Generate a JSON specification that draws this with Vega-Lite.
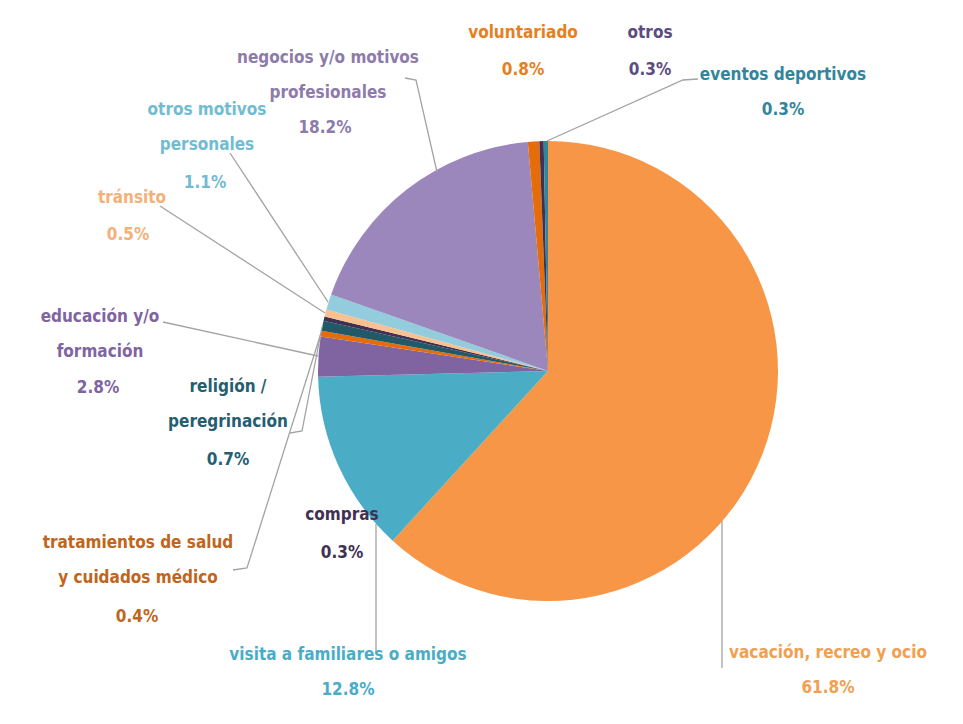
{
  "$schema": "https://vega.github.io/schema/vega-lite/v6.json",
  "width": 830,
  "height": 706,
  "autosize": {"type": "none"},
  "padding": {"left": 133, "top": 18, "right": 0, "bottom": 0},
  "background": "white",
  "config": {"view": {"stroke": null}},
  "data": {
    "values": [
      {"orden": 1, "motivo": "vacación, recreo y ocio", "etiqueta": "vacación, recreo y ocio", "porcentaje": 0.618, "guia": ["etiqueta", "sector"]},
      {"orden": 2, "motivo": "visita a familiares o amigos", "etiqueta": "visita a familiares o amigos", "porcentaje": 0.128, "guia": ["etiqueta", "sector"]},
      {"orden": 3, "motivo": "educación y/o formación", "etiqueta": "educación y/o\nformación", "porcentaje": 0.028, "guia": ["etiqueta", "sector"]},
      {"orden": 4, "motivo": "tratamientos de salud y cuidados médico", "etiqueta": "tratamientos de salud\ny cuidados médico", "porcentaje": 0.004, "guia": ["etiqueta", "codo", "sector"]},
      {"orden": 5, "motivo": "religión / peregrinación", "etiqueta": "religión /\nperegrinación", "porcentaje": 0.007, "guia": ["etiqueta", "codo", "sector"]},
      {"orden": 6, "motivo": "compras", "etiqueta": "compras", "porcentaje": 0.003, "guia": []},
      {"orden": 7, "motivo": "tránsito", "etiqueta": "tránsito", "porcentaje": 0.005, "guia": ["etiqueta", "sector"]},
      {"orden": 8, "motivo": "otros motivos personales", "etiqueta": "otros motivos\npersonales", "porcentaje": 0.011, "guia": ["etiqueta", "sector"]},
      {"orden": 9, "motivo": "negocios y/o motivos profesionales", "etiqueta": "negocios y/o motivos\nprofesionales", "porcentaje": 0.182, "guia": ["etiqueta", "codo", "sector"]},
      {"orden": 10, "motivo": "voluntariado", "etiqueta": "voluntariado", "porcentaje": 0.008, "guia": []},
      {"orden": 11, "motivo": "otros", "etiqueta": "otros", "porcentaje": 0.003, "guia": []},
      {"orden": 12, "motivo": "eventos deportivos", "etiqueta": "eventos deportivos", "porcentaje": 0.003, "guia": ["etiqueta", "codo", "sector"]}
    ]
  },
  "layer": [
    {
      "mark": {"type": "arc", "outerRadius": 230, "stroke": null},
      "encoding": {
        "theta": {"field": "porcentaje", "type": "quantitative", "stack": true},
        "order": {"field": "orden", "type": "quantitative"},
        "color": {
          "field": "motivo",
          "type": "nominal",
          "scale": {
            "domain": ["vacación, recreo y ocio", "visita a familiares o amigos", "educación y/o formación", "tratamientos de salud y cuidados médico", "religión / peregrinación", "compras", "tránsito", "otros motivos personales", "negocios y/o motivos profesionales", "voluntariado", "otros", "eventos deportivos"],
            "range": ["#F79646", "#4BACC6", "#8064A2", "#E46C0A", "#215968", "#403152", "#FAC090", "#93CDDD", "#9B87BC", "#E46C0A", "#403152", "#31859C"]
          },
          "legend": null
        }
      }
    },
    {
      "transform": [
        {"flatten": ["guia"]},
        {"window": [{"op": "row_number", "as": "punto"}]}
      ],
      "mark": {"type": "line", "color": "#A3A3A3", "strokeWidth": 1.3},
      "encoding": {
        "x": {"field": "punto", "type": "quantitative", "scale": {"domain": [1, 2, 3, 4, 5, 6, 7, 8, 9, 10, 11, 12, 13, 14, 15, 16, 17, 18, 19, 20, 21, 22], "range": [589, 589, 243, 243, 30, 185, 100, 114, 188, 157, 169, 189, 27, 192, 97, 195, 272, 283, 304, 565, 550, 414], "zero": false, "nice": false}, "axis": null},
        "y": {"field": "punto", "type": "quantitative", "scale": {"domain": [1, 2, 3, 4, 5, 6, 7, 8, 9, 10, 11, 12, 13, 14, 15, 16, 17, 18, 19, 20, 21, 22], "range": [650, 503, 635, 506, 304, 338, 552, 550, 315, 415, 413, 309, 188, 295, 135, 284, 60, 62, 154, 61, 62, 123], "zero": false, "nice": false}, "axis": null},
        "detail": {"field": "motivo", "type": "nominal"},
        "order": {"field": "punto", "type": "quantitative"}
      }
    },
    {
      "mark": {"type": "text", "font": "DejaVu Sans Condensed, sans-serif", "fontSize": 17, "fontWeight": "bold", "align": "center", "baseline": "middle", "lineHeight": 35, "lineBreak": "\n"},
      "encoding": {
        "x": {"field": "orden", "type": "quantitative", "scale": {"domain": [1, 2, 3, 4, 5, 6, 7, 8, 9, 10, 11, 12], "range": [695, 215, -33, 5, 95, 209, -1, 74, 195, 390, 517, 650], "zero": false, "nice": false}, "axis": null},
        "y": {"field": "orden", "type": "quantitative", "scale": {"domain": [1, 2, 3, 4, 5, 6, 7, 8, 9, 10, 11, 12], "range": [635, 637, 299, 525, 369, 497, 180, 92, 40, 15, 15, 57], "zero": false, "nice": false}, "axis": null},
        "text": {"field": "etiqueta", "type": "nominal"},
        "color": {
          "field": "motivo",
          "type": "nominal",
          "scale": {
            "domain": ["vacación, recreo y ocio", "visita a familiares o amigos", "educación y/o formación", "tratamientos de salud y cuidados médico", "religión / peregrinación", "compras", "tránsito", "otros motivos personales", "negocios y/o motivos profesionales", "voluntariado", "otros", "eventos deportivos"],
            "range": ["#F0A050", "#4BACC6", "#8064A2", "#C0651C", "#245E70", "#403152", "#F5B07A", "#72BCD2", "#8D7BAA", "#E5801E", "#5C4C80", "#31859C"]
          },
          "legend": null
        }
      }
    },
    {
      "mark": {"type": "text", "font": "DejaVu Sans Condensed, sans-serif", "fontSize": 17, "fontWeight": "bold", "align": "center", "baseline": "middle"},
      "encoding": {
        "x": {"field": "orden", "type": "quantitative", "scale": {"domain": [1, 2, 3, 4, 5, 6, 7, 8, 9, 10, 11, 12], "range": [695, 215, -35, 4, 95, 209, -5, 72, 192, 390, 517, 650], "zero": false, "nice": false}, "axis": null},
        "y": {"field": "orden", "type": "quantitative", "scale": {"domain": [1, 2, 3, 4, 5, 6, 7, 8, 9, 10, 11, 12], "range": [670, 672, 370, 599, 442, 535, 217, 165, 110, 52, 52, 92], "zero": false, "nice": false}, "axis": null},
        "text": {"field": "porcentaje", "type": "quantitative", "format": ".1%"},
        "color": {
          "field": "motivo",
          "type": "nominal",
          "scale": {
            "domain": ["vacación, recreo y ocio", "visita a familiares o amigos", "educación y/o formación", "tratamientos de salud y cuidados médico", "religión / peregrinación", "compras", "tránsito", "otros motivos personales", "negocios y/o motivos profesionales", "voluntariado", "otros", "eventos deportivos"],
            "range": ["#F0A050", "#4BACC6", "#8064A2", "#C0651C", "#245E70", "#403152", "#F5B07A", "#72BCD2", "#8D7BAA", "#E5801E", "#5C4C80", "#31859C"]
          },
          "legend": null
        }
      }
    }
  ],
  "resolve": {"scale": {"color": "independent", "x": "independent", "y": "independent"}}
}
